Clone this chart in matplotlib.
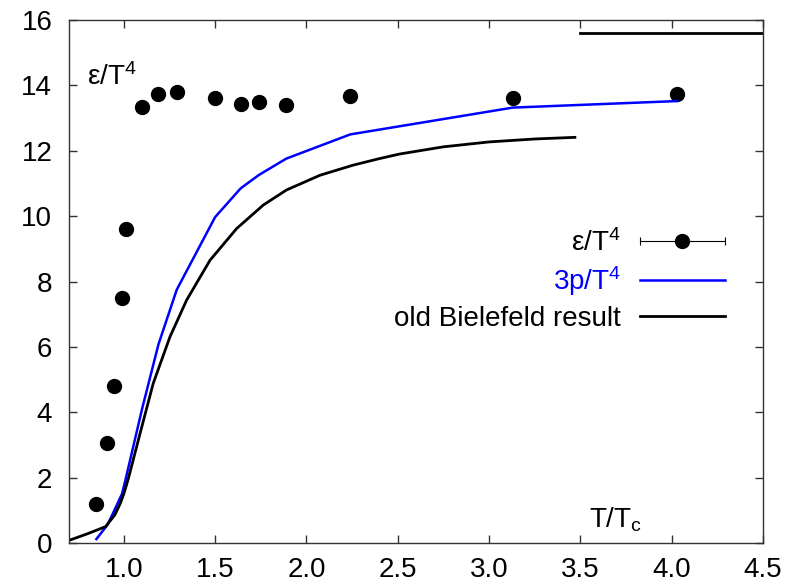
import numpy as np
import matplotlib
matplotlib.use("Agg")
import matplotlib.pyplot as plt
from matplotlib.legend_handler import HandlerErrorbar

plt.rcParams['font.family'] = ['Liberation Sans', 'DejaVu Sans']
plt.rcParams['mathtext.default'] = 'regular'

# ------------------------------
# data
# ------------------------------
T_eps = [0.85, 0.91, 0.945, 0.99, 1.01, 1.10, 1.19, 1.29, 1.50, 1.64, 1.74, 1.89, 2.24, 3.13, 4.03]
eps   = [1.19, 3.07, 4.80, 7.50, 9.60, 13.34, 13.75, 13.80, 13.60, 13.43, 13.48, 13.39, 13.67, 13.60, 13.75]

T_p = [0.85, 0.91, 0.94, 0.99, 1.01, 1.10, 1.19, 1.29, 1.50, 1.64, 1.74, 1.89, 2.24, 3.13, 4.03]
p3  = [0.12, 0.55, 0.90, 1.50, 1.95, 4.10, 6.08, 7.75, 9.97, 10.85, 11.26, 11.76, 12.50, 13.32, 13.52]

T_old = [0.70, 0.80, 0.90, 0.95, 0.98, 1.00, 1.024, 1.089, 1.161, 1.253, 1.344, 1.472,
         1.618, 1.764, 1.891, 2.074, 2.256, 2.40, 2.51, 2.75, 3.00, 3.25, 3.47]
e_old = [0.08, 0.28, 0.50, 0.85, 1.20, 1.50, 1.95, 3.35, 4.88, 6.31, 7.43, 8.65,
         9.62, 10.34, 10.80, 11.25, 11.56, 11.76, 11.90, 12.12, 12.27, 12.36, 12.41]

T_sb = [3.5, 4.5]
e_sb = [15.6, 15.6]

# ------------------------------
# plot
# ------------------------------
fig = plt.figure(figsize=(8.04, 5.85), dpi=100)
ax = fig.add_axes([69/804, 1 - 543/585, (763 - 69)/804, (543 - 20)/585])

ax.plot(T_eps, eps, 'o', color='black', ms=10)
l_p, = ax.plot(T_p, p3, color='#0000ff', lw=1.8, label='3p/$T^4$')
l_old, = ax.plot(T_old, e_old, color='black', lw=2.0, label='old Bielefeld result')
ax.plot(T_sb, e_sb, color='black', lw=2.0)

# legend proxy for the points with error bar
proxy = ax.errorbar([np.nan], [np.nan], xerr=[1.0], fmt='o', color='black',
                    ms=10, elinewidth=0.8, capsize=3, capthick=0.8, label='ε/$T^4$')

leg = ax.legend(handles=[proxy, l_p, l_old], loc='upper right',
                bbox_to_anchor=(1 - 38/694, 1 - 209/523), frameon=False,
                markerfirst=False, fontsize=20, handlelength=3.06,
                handletextpad=0.68, labelspacing=0.27, borderpad=0, borderaxespad=0,
                handler_map={proxy: HandlerErrorbar(xerr_size=1.53)})
leg.get_texts()[1].set_color('#0000ff')

ax.text(0.8, 14.0, 'ε/$T^4$', fontsize=20, va='baseline', ha='left')
ax.text(3.55, 0.46, 'T/$T_c$', fontsize=20, va='baseline', ha='left')

ax.set_xlim(0.7, 4.5)
ax.set_ylim(0, 16)
ax.set_xticks(np.arange(1.0, 4.51, 0.5))
ax.set_xticklabels(['1.0', '1.5', '2.0', '2.5', '3.0', '3.5', '4.0', '4.5'])
ax.set_yticks(np.arange(0, 17, 2))
ax.tick_params(direction='in', top=True, right=True, length=6, width=1,
               labelsize=20, color='#333333')
ax.tick_params(axis='x', pad=10)
ax.tick_params(axis='y', pad=12)
for s in ax.spines.values():
    s.set_linewidth(1.0)
    s.set_color('#333333')

fig.savefig('out.png', dpi=100)
